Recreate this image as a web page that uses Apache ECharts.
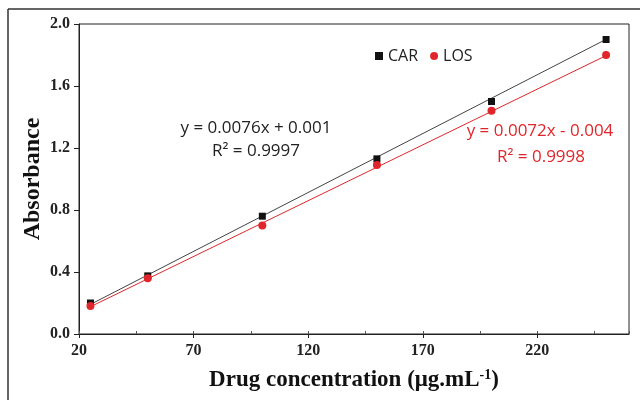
<!DOCTYPE html>
<html>
<head>
<meta charset="utf-8">
<script src="https://cdn.jsdelivr.net/npm/echarts@6/dist/echarts.min.js"></script>
<style>
  html, body { margin: 0; padding: 0; background: #fff; }
  #chart { width: 640px; height: 400px; }
</style>
</head>
<body>
<div id="chart"></div>
<script>
// measured points (concentration in µg/mL, absorbance)
const conc = [25, 50, 100, 150, 200, 250];
const carAbs = [0.20, 0.375, 0.76, 1.13, 1.50, 1.90];
const losAbs = [0.18, 0.36, 0.70, 1.09, 1.44, 1.80];

// trendline end points
const fitX = [25, 250];
const carFit = [0.191, 1.901];
const losFit = [0.176, 1.796];

const xLabels = [20, 70, 120, 170, 220];
const yLabels = ['0.0', '0.4', '0.8', '1.2', '1.6', '2.0'];

const carEq = ['y = 0.0076x + 0.001', 'R² = 0.9997'];
const losEq = ['y = 0.0072x - 0.004', 'R² = 0.9998'];

const RED = '#e0262b';
const serif = '"Liberation Serif", "Times New Roman", serif';
const sans = '"Open Sans", "Noto Sans", sans-serif';

const pairs = (xs, ys) => xs.map((x, i) => [x, ys[i]]);

const chart = echarts.init(document.getElementById('chart'));

// small helper for the equation labels
function eqText(text, x, y, color) {
  return {
    type: 'text', x: x, y: y, silent: true,
    style: { text: text, fill: color, font: '17px ' + sans, textAlign: 'center', textVerticalAlign: 'middle' }
  };
}

chart.setOption({
  animation: false,
  backgroundColor: '#fff',
  grid: {
    left: 79, right: 11, top: 24, bottom: 66,
    show: true, borderColor: '#222', borderWidth: 1
  },
  legend: {
    data: [
      { name: 'CAR', icon: 'rect' },
      { name: 'LOS', icon: 'circle' }
    ],
    left: 370, top: 43,
    itemWidth: 8, itemHeight: 8, itemGap: 12,
    textStyle: { fontFamily: sans, fontSize: 16, color: '#222' }
  },
  xAxis: [{
    type: 'value', min: 20, max: 260, interval: 50,
    name: '{a|Drug concentration (μg.mL}{s|-1}{a|)}',
    nameLocation: 'middle', nameGap: 34,
    nameTextStyle: {
      rich: {
        a: { fontFamily: serif, fontWeight: 'bold', fontSize: 23, color: '#111' },
        s: { fontFamily: serif, fontWeight: 'bold', fontSize: 14, color: '#111', verticalAlign: 'top', padding: [0, 0, 10, 0] }
      }
    },
    axisLine: { lineStyle: { color: '#222', width: 1 } },
    axisTick: { length: 4, lineStyle: { color: '#222' } },
    axisLabel: {
      showMaxLabel: false, margin: 9,
      fontFamily: serif, fontWeight: 'bold', fontSize: 16, color: '#222',
      formatter: v => xLabels.includes(v) ? String(v) : ''
    },
    splitLine: { show: false }
  }, {
    type: 'value', min: 20, max: 260, interval: 25,
    position: 'bottom',
    axisLine: { show: false },
    axisTick: { inside: true, length: 3, lineStyle: { color: '#555' } },
    axisLabel: { show: false },
    splitLine: { show: false }
  }],
  yAxis: {
    type: 'value', min: 0, max: 2, interval: 0.4,
    name: 'Absorbance', nameLocation: 'middle', nameGap: 34,
    nameMoveOverlap: false,
    nameTextStyle: { fontFamily: serif, fontWeight: 'bold', fontSize: 24, color: '#111' },
    axisLine: { show: true, lineStyle: { color: '#222', width: 1 } },
    axisTick: { show: true, length: 5, lineStyle: { color: '#222' } },
    axisLabel: {
      margin: 9, fontFamily: serif, fontWeight: 'bold', fontSize: 16, color: '#222',
      formatter: v => yLabels[Math.round(v / 0.4)]
    },
    splitLine: { show: false }
  },
  series: [
    {
      name: 'CAR fit', type: 'line', data: pairs(fitX, carFit),
      showSymbol: false, silent: true, z: 1,
      lineStyle: { color: '#444', width: 1 }
    },
    {
      name: 'LOS fit', type: 'line', data: pairs(fitX, losFit),
      showSymbol: false, silent: true, z: 1,
      lineStyle: { color: RED, width: 1 }
    },
    {
      name: 'CAR', type: 'scatter', data: pairs(conc, carAbs),
      symbol: 'rect', symbolSize: 7, z: 3,
      itemStyle: { color: '#111', opacity: 1 }
    },
    {
      name: 'LOS', type: 'scatter', data: pairs(conc, losAbs),
      symbol: 'circle', symbolSize: 8, z: 4,
      itemStyle: { color: RED, opacity: 1 }
    }
  ],
  graphic: [
    { type: 'line', shape: { x1: 8, y1: 9, x2: 640, y2: 9 }, style: { stroke: '#333', lineWidth: 1.5 } },
    { type: 'line', shape: { x1: 8, y1: 9, x2: 8, y2: 400 }, style: { stroke: '#333', lineWidth: 1.5 } },
    eqText(carEq[0], 256, 128, '#222'),
    eqText(carEq[1], 256, 151, '#222'),
    eqText(losEq[0], 540, 131, RED),
    eqText(losEq[1], 541, 157, RED)
  ]
});
</script>
</body>
</html>
